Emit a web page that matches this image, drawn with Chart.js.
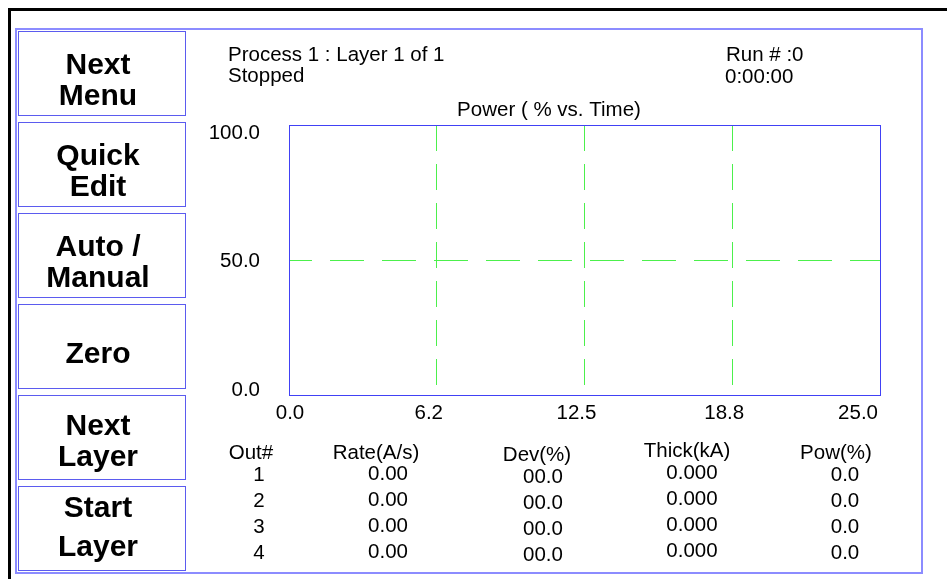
<!DOCTYPE html>
<html lang="en">
<head>
  <meta charset="UTF-8" />
  <title>Power ( % vs. Time)</title>
  <script src="https://cdn.jsdelivr.net/npm/chart.js"></script>
  <style>
    html, body { margin: 0; padding: 0; background: #fff; }
    body { width: 947px; height: 579px; position: relative; overflow: hidden; font-family: "Liberation Sans", Arial, sans-serif; color: #000; }
    #chartCanvas { position: absolute; left: 0; top: 0; }
    .frame-black { position: absolute; left: 8px; top: 8px; width: 960px; height: 600px; border-top: 3px solid #000; border-left: 3px solid #000; }
    .frame-blue { position: absolute; left: 15px; top: 28px; width: 904px; height: 542px; border: 2px solid #8c8cff; }
    .btn { position: absolute; left: 18px; width: 166px; height: 83px; border: 1px solid #5b5bef; }
    .txt { position: absolute; white-space: nowrap; }
  </style>
</head>
<body>
  <div class="frame-black"></div>
  <div class="frame-blue"></div>
  <canvas id="chartCanvas" width="947" height="579"></canvas>

  <script>
    // chart values
    const timeTicks = [0, 6.25, 12.5, 18.75, 25];
    const timeTickLabels = ["0.0", "6.2", "12.5", "18.8", "25.0"];
    const powerTicks = [0, 50, 100];
    const powerTickLabels = ["0.0", "50.0", "100.0"];
    const powerSeries = []; // process stopped, nothing logged yet

    // readout table
    const outNums = ["1", "2", "3", "4"];
    const rates = ["0.00", "0.00", "0.00", "0.00"];
    const devs = ["00.0", "00.0", "00.0", "00.0"];
    const thicks = ["0.000", "0.000", "0.000", "0.000"];
    const pows = ["0.0", "0.0", "0.0", "0.0"];

    const buttons = [
      { lines: ["Next", "Menu"], base: [74, 105] },
      { lines: ["Quick", "Edit"], base: [165, 196] },
      { lines: ["Auto /", "Manual"], base: [256, 287] },
      { lines: ["Zero"], base: [363] },
      { lines: ["Next", "Layer"], base: [435, 466] },
      { lines: ["Start", "Layer"], base: [517, 556] }
    ];

    const FONT = '"Liberation Sans", Arial, sans-serif';
    const SIZE = 20.5;

    function addText(str, x, baseline, size, opts) {
      opts = opts || {};
      const el = document.createElement("div");
      el.className = "txt";
      el.textContent = str;
      el.style.fontSize = size + "px";
      el.style.lineHeight = (size * 1.117) + "px";
      el.style.top = (baseline - size * 0.905) + "px";
      el.style.left = x + "px";
      if (opts.bold) el.style.fontWeight = "bold";
      if (opts.center) el.style.transform = "translateX(-50%)";
      document.body.appendChild(el);
    }

    // left button column
    buttons.forEach((b, i) => {
      const box = document.createElement("div");
      box.className = "btn";
      box.style.top = (31 + i * 91) + "px";
      document.body.appendChild(box);
      b.lines.forEach((line, j) => addText(line, 98, b.base[j], 30, { bold: true, center: true }));
    });

    // status header
    addText("Process 1 : Layer 1 of 1", 228, 62, SIZE);
    addText("Stopped", 228, 83, SIZE);
    addText("Run # :0", 726, 62, SIZE);
    addText("0:00:00", 725, 84, SIZE);

    // table
    const columns = [
      { head: "Out#", hx: 251, hy: 460, vx: 259, dy: 0, vals: outNums },
      { head: "Rate(A/s)", hx: 376, hy: 460, vx: 388, dy: -1, vals: rates },
      { head: "Dev(%)", hx: 537, hy: 462, vx: 543, dy: 2, vals: devs },
      { head: "Thick(kA)", hx: 687, hy: 458, vx: 692, dy: -2, vals: thicks },
      { head: "Pow(%)", hx: 836, hy: 460, vx: 845, dy: 0, vals: pows }
    ];
    columns.forEach(c => {
      addText(c.head, c.hx, c.hy, SIZE, { center: true });
      c.vals.forEach((v, r) => addText(v, c.vx, 482 + r * 26 + c.dy, SIZE, { center: true }));
    });

    const panelPlugin = {
      id: "panel",
      afterDraw(chart) {
        const { ctx, chartArea: a, scales } = chart;
        ctx.save();
        ctx.strokeStyle = "#4141f5";
        ctx.lineWidth = 1;
        ctx.strokeRect(a.left + 0.5, a.top + 0.5, a.right - a.left, a.bottom - a.top);

        ctx.fillStyle = "#000";
        ctx.font = SIZE + "px " + FONT;
        ctx.textBaseline = "alphabetic";

        ctx.textAlign = "center";
        ctx.fillText("Power ( % vs. Time)", 549, a.top - 9);

        // y labels, kept inside the plot height
        ctx.textAlign = "right";
        powerTicks.forEach((v, i) => {
          let y = scales.y.getPixelForValue(v) + 7;
          y = Math.max(a.top + 14, Math.min(a.bottom + 1, y));
          ctx.fillText(powerTickLabels[i], a.left - 29, y);
        });

        // x labels
        timeTicks.forEach((v, i) => {
          const x = scales.x.getPixelForValue(v);
          const y = a.bottom + 24;
          if (i === 0) { ctx.textAlign = "center"; ctx.fillText(timeTickLabels[i], x + 1, y); }
          else if (i === timeTicks.length - 1) { ctx.textAlign = "right"; ctx.fillText(timeTickLabels[i], x - 2, y); }
          else { ctx.textAlign = "center"; ctx.fillText(timeTickLabels[i], x - 8, y); }
        });
        ctx.restore();
      }
    };

    const gridGreen = "#4cf04c";

    new Chart(document.getElementById("chartCanvas"), {
      type: "line",
      data: {
        datasets: [{ label: "Power", data: powerSeries, borderColor: "#ff0000", borderWidth: 1, pointRadius: 0 }]
      },
      options: {
        responsive: false,
        animation: false,
        layout: { padding: { left: 289, top: 125, right: 67, bottom: 184 } },
        plugins: { legend: { display: false }, tooltip: { enabled: false } },
        scales: {
          x: {
            type: "linear", min: 0, max: 25,
            afterBuildTicks: s => { s.ticks = timeTicks.map(v => ({ value: v })); },
            ticks: { display: false },
            border: { display: false, dash: [26, 13] },
            grid: {
              drawTicks: false, lineWidth: 1,
              color: c => (c.tick && (c.tick.value === 0 || c.tick.value === 25)) ? "rgba(0,0,0,0)" : gridGreen
            }
          },
          y: {
            type: "linear", min: 0, max: 100,
            afterBuildTicks: s => { s.ticks = powerTicks.map(v => ({ value: v })); },
            ticks: { display: false },
            border: { display: false, dash: [34, 18], dashOffset: 11 },
            grid: {
              drawTicks: false, lineWidth: 1,
              color: c => (c.tick && (c.tick.value === 0 || c.tick.value === 100)) ? "rgba(0,0,0,0)" : gridGreen
            }
          }
        }
      },
      plugins: [panelPlugin]
    });
  </script>
</body>
</html>
